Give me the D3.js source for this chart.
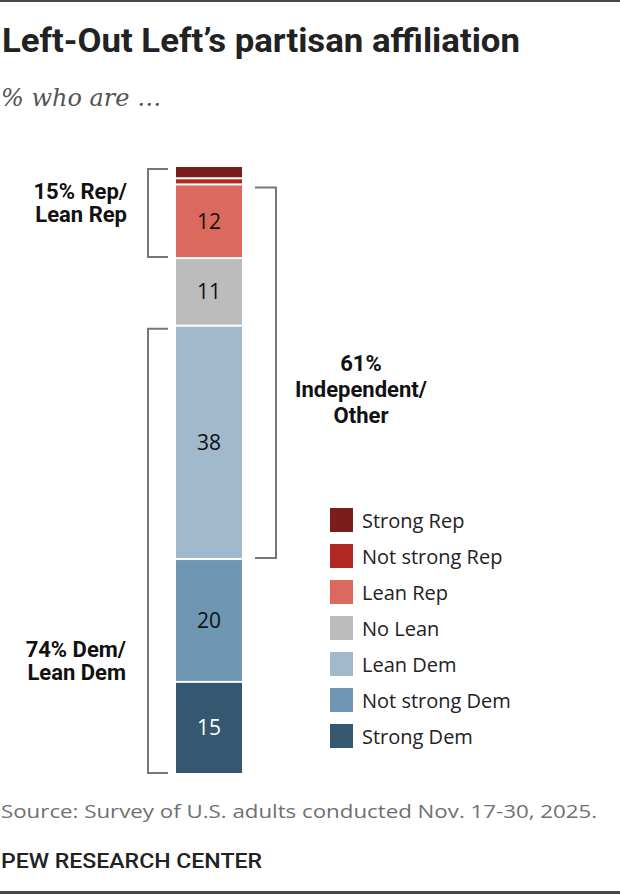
<!DOCTYPE html>
<html>
<head>
<meta charset="utf-8">
<script src="https://cdn.jsdelivr.net/npm/d3@7"></script>
<style>
  body { margin: 0; background: #fff; }
  svg { display: block; }
</style>
</head>
<body>
<script>
// data
var categories = ["Strong Rep", "Not strong Rep", "Lean Rep", "No Lean", "Lean Dem", "Not strong Dem", "Strong Dem"];
var values = [2, 1, 12, 11, 38, 20, 15];
var colors = ["#7b1d1b", "#b0281f", "#dc695e", "#bcbcbc", "#a1b9cd", "#6f96b3", "#35576f"];
var groupNames = ["Rep", "Independent", "Dem"];
var groupLabels = [["15% Rep/", "Lean Rep"], ["61%", "Independent/", "Other"], ["74% Dem/", "Lean Dem"]];
var groupFirst = ["Strong Rep", "Lean Rep", "Lean Dem"];
var groupLast = ["Lean Rep", "Lean Dem", "Strong Dem"];

var width = 620, height = 894;
var sans = "Roboto, 'Liberation Sans', Arial, sans-serif";
var body = "'Open Sans', 'Noto Sans', Arial, sans-serif";

var svg = d3.select("body").append("svg").attr("width", width).attr("height", height);

// frame lines
svg.append("rect").attr("x", 0).attr("y", 0).attr("width", width).attr("height", 2).attr("fill", "#464646");
svg.append("rect").attr("x", 0).attr("y", height - 3).attr("width", width).attr("height", 3).attr("fill", "#464646");

svg.append("text")
  .attr("x", 2).attr("y", 52)
  .attr("textLength", 518).attr("lengthAdjust", "spacingAndGlyphs")
  .style("font-family", sans).style("font-weight", "700").style("font-size", "33px")
  .style("fill", "#222")
  .text("Left-Out Left\u2019s partisan affiliation");

svg.append("text")
  .attr("x", 1).attr("y", 106)
  .style("font-family", "'DejaVu Serif', Georgia, serif").style("font-style", "italic").style("font-size", "24px")
  .style("fill", "#555")
  .text("% who are \u2026");

// stacked bar
var row = { name: "Left-Out Left" };
categories.forEach(function(c, i){ row[c] = values[i]; });
var series = d3.stack().keys(categories)([row]);

var y = d3.scaleLinear().domain([0, d3.sum(values)]).range([167, 775]);
var x = d3.scaleBand().domain(["Left-Out Left"]).range([176, 242]);
var color = d3.scaleOrdinal().domain(categories).range(colors);

var seg = svg.append("g").selectAll("g")
  .data(series).enter().append("g");

seg.append("rect")
  .attr("x", x("Left-Out Left"))
  .attr("width", x.bandwidth())
  .attr("y", function(d){ return y(d[0][0]); })
  .attr("height", function(d){ return y(d[0][1]) - y(d[0][0]) - 2; })
  .attr("fill", function(d){ return color(d.key); });

seg.filter(function(d){ return d[0][1] - d[0][0] >= 5; })
  .append("text")
  .attr("x", x("Left-Out Left") + x.bandwidth() / 2)
  .attr("y", function(d){ return (y(d[0][0]) + y(d[0][1]) - 2) / 2; })
  .attr("dy", "0.36em")
  .attr("text-anchor", "middle")
  .style("font-family", body).style("font-size", "21px")
  .style("fill", function(d){ return d.key == "Strong Dem" ? "#fff" : "#111"; })
  .text(function(d){ return d[0][1] - d[0][0]; });

// brackets
var byKey = {};
series.forEach(function(s){ byKey[s.key] = s[0]; });
var barL = x("Left-Out Left"), barR = barL + x.bandwidth();

groupNames.forEach(function(g, i){
  var y0 = y(byKey[groupFirst[i]][0]) + 2;
  var y1 = y(byKey[groupLast[i]][1]) - 2;
  var p;
  if (g == "Independent") {
    p = "M" + (barR + 13) + "," + y0 + "H" + (barR + 34) + "V" + y1 + "H" + (barR + 13);
  } else {
    p = "M" + (barL - 8) + "," + y0 + "H" + (barL - 28) + "V" + y1 + "H" + (barL - 8);
  }
  svg.append("path").attr("d", p).attr("fill", "none").attr("stroke", "#777").attr("stroke-width", 2);
});

// group labels
function multiLine(lines, tx, ty, anchor, lh) {
  var t = svg.append("text")
    .attr("text-anchor", anchor)
    .style("font-family", sans).style("font-weight", "700").style("font-size", "22px")
    .style("fill", "#111");
  lines.forEach(function(l, i){
    t.append("tspan").attr("x", tx).attr("y", ty + i * lh).text(l);
  });
}
multiLine(groupLabels[0], 127, 199, "end", 23);
multiLine(groupLabels[1], 361, 371, "middle", 26);
multiLine(groupLabels[2], 126, 657, "end", 23);

// legend
var legend = svg.append("g").selectAll("g")
  .data(categories).enter().append("g")
  .attr("transform", function(d, i){ return "translate(330," + (508 + i * 36) + ")"; });

legend.append("rect")
  .attr("width", 23).attr("height", 24)
  .attr("fill", function(d){ return color(d); });

legend.append("text")
  .attr("x", 32).attr("y", 20)
  .style("font-family", body).style("font-size", "20px")
  .style("fill", "#222")
  .text(function(d){ return d; });

// footer
svg.append("text")
  .attr("x", 1).attr("y", 818)
  .attr("textLength", 596).attr("lengthAdjust", "spacingAndGlyphs")
  .style("font-family", body).style("font-size", "19px")
  .style("fill", "#707070")
  .text("Source: Survey of U.S. adults conducted Nov. 17-30, 2025.");

svg.append("text")
  .attr("x", 1).attr("y", 868)
  .attr("textLength", 261).attr("lengthAdjust", "spacingAndGlyphs")
  .style("font-family", sans).style("font-weight", "500").style("font-size", "20px")
  .style("fill", "#222")
  .text("PEW RESEARCH CENTER");
</script>
</body>
</html>
